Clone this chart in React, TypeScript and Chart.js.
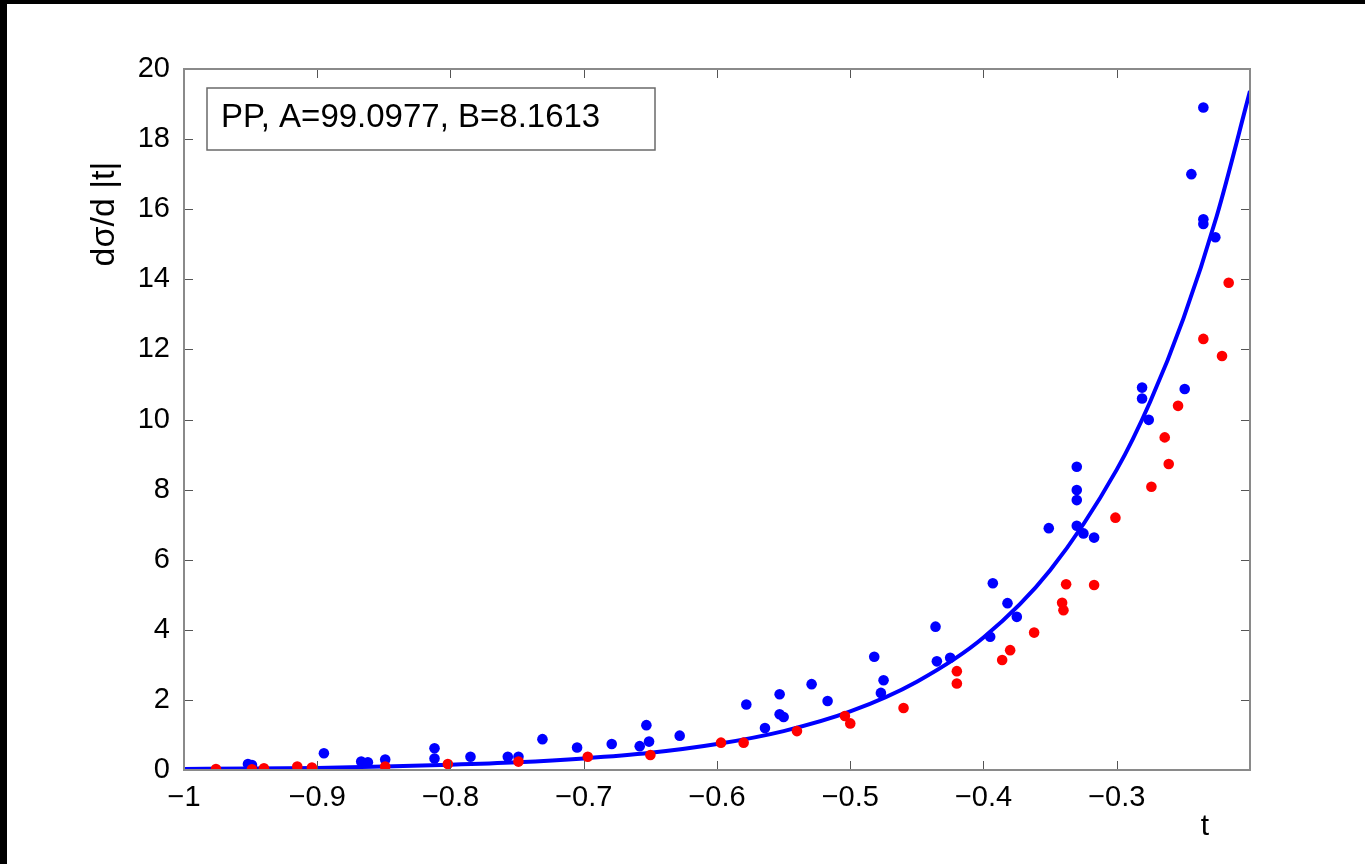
import React, { useEffect, useRef } from "react";
import { Chart, registerables } from "chart.js";

Chart.register(...registerables);

// Measured series (blue)
const blueT = [
  -0.952, -0.949, -0.895, -0.867, -0.862, -0.849, -0.812, -0.812, -0.785, -0.757,
  -0.749, -0.731, -0.705, -0.679, -0.658, -0.653, -0.651, -0.628, -0.578, -0.564,
  -0.553, -0.553, -0.55, -0.529, -0.517, -0.482, -0.475, -0.477, -0.436, -0.435,
  -0.425, -0.395, -0.393, -0.382, -0.375, -0.351, -0.33, -0.33, -0.33, -0.33,
  -0.325, -0.317, -0.281, -0.281, -0.276, -0.249, -0.244, -0.235, -0.235, -0.235,
  -0.226,
];
const blueY = [
  0.17, 0.14, 0.48, 0.24, 0.22, 0.3, 0.62, 0.33, 0.38, 0.38,
  0.38, 0.88, 0.64, 0.74, 0.68, 1.28, 0.81, 0.98, 1.87, 1.2,
  2.16, 1.59, 1.51, 2.45, 1.97, 3.23, 2.56, 2.2, 4.09, 3.1,
  3.2, 3.8, 5.33, 4.76, 4.37, 6.9, 8.65, 7.99, 7.7, 6.97,
  6.75, 6.63, 10.91, 10.6, 9.99, 10.87, 17.0, 18.9, 15.71, 15.58,
  15.2,
];

// Measured series (red)
const redT = [
  -0.976, -0.949, -0.94, -0.915, -0.904, -0.849, -0.802, -0.749, -0.697, -0.65,
  -0.597, -0.58, -0.54, -0.504, -0.5, -0.46, -0.42, -0.42, -0.386, -0.38,
  -0.362, -0.341, -0.34, -0.338, -0.317, -0.301, -0.274, -0.261, -0.264, -0.254,
  -0.235, -0.221, -0.216,
];
const redY = [
  0.03, 0.02, 0.05, 0.1, 0.07, 0.1, 0.17, 0.24, 0.38, 0.43,
  0.78, 0.78, 1.11, 1.54, 1.33, 1.77, 2.82, 2.47, 3.14, 3.42,
  3.92, 4.77, 4.56, 5.3, 5.28, 7.2, 8.08, 8.73, 9.49, 10.39,
  12.3, 11.81, 13.9,
];

// Fit curve
const fitT = [-1, -0.95, -0.9, -0.85, -0.8, -0.75, -0.7, -0.65, -0.6, -0.55, -0.5, -0.45, -0.4, -0.35, -0.3, -0.275, -0.25, -0.225, -0.2];
const fitY = [0.03, 0.04, 0.06, 0.1, 0.15, 0.22, 0.33, 0.49, 0.74, 1.11, 1.67, 2.52, 3.78, 5.7, 8.57, 10.5, 12.88, 15.8, 19.37];

const xTicks = [-1, -0.9, -0.8, -0.7, -0.6, -0.5, -0.4, -0.3];
const yTicks = [0, 2, 4, 6, 8, 10, 12, 14, 16, 18, 20];

const legendText = "PP, A=99.0977, B=8.1613";
const xTitle = "t";
const yTitle = "dσ/d |t|";

const FONT = "'Liberation Sans', Arial, Helvetica, sans-serif";

const fmt = (v: number) => String(v).replace("-", "\u2212");

export default function App() {
  const ref = useRef<HTMLCanvasElement | null>(null);

  useEffect(() => {
    if (!ref.current) return;

    const bgPlugin = {
      id: "bg",
      beforeDraw(chart: any) {
        const ctx = chart.ctx;
        ctx.save();
        ctx.fillStyle = "#ffffff";
        ctx.fillRect(0, 0, chart.width, chart.height);
        ctx.fillStyle = "#000000";
        ctx.fillRect(0, 0, chart.width, 4);
        ctx.fillRect(0, 0, 7, chart.height);
        ctx.restore();
      },
    };

    const framePlugin = {
      id: "frame",
      afterDraw(chart: any) {
        const ctx = chart.ctx;
        const a = chart.chartArea;
        const xs = chart.scales.x;
        const ys = chart.scales.y;
        ctx.save();
        // inward ticks
        ctx.strokeStyle = "#555555";
        ctx.lineWidth = 1;
        const tl = 9;
        ctx.beginPath();
        for (const v of xTicks) {
          const px = Math.round(xs.getPixelForValue(v)) + 0.5;
          ctx.moveTo(px, a.bottom);
          ctx.lineTo(px, a.bottom - tl);
          ctx.moveTo(px, a.top);
          ctx.lineTo(px, a.top + tl);
        }
        for (const v of yTicks) {
          const py = Math.round(ys.getPixelForValue(v)) + 0.5;
          ctx.moveTo(a.left, py);
          ctx.lineTo(a.left + tl, py);
          ctx.moveTo(a.right, py);
          ctx.lineTo(a.right - tl, py);
        }
        ctx.stroke();
        // box
        ctx.strokeStyle = "#8a8a8a";
        ctx.lineWidth = 2;
        ctx.strokeRect(a.left, a.top, a.right - a.left, a.bottom - a.top);

        // legend box
        ctx.fillStyle = "#ffffff";
        ctx.fillRect(207, 88, 448, 62);
        ctx.strokeStyle = "#6a6a6a";
        ctx.lineWidth = 1.5;
        ctx.strokeRect(207, 88, 448, 62);
        ctx.fillStyle = "#000000";
        ctx.font = `33px ${FONT}`;
        ctx.textAlign = "left";
        ctx.textBaseline = "middle";
        ctx.fillText(legendText, 221, 118);

        // axis titles
        ctx.font = `30px ${FONT}`;
        ctx.textAlign = "center";
        ctx.textBaseline = "middle";
        ctx.fillText(xTitle, 1205, 827);
        ctx.font = `34px ${FONT}`;
        ctx.translate(105, 214);
        ctx.rotate(-Math.PI / 2);
        ctx.fillText(yTitle, 0, 0);
        ctx.restore();
      },
    };

    const chart = new Chart(ref.current, {
      type: "scatter",
      data: {
        datasets: [
          {
            label: "red",
            data: redT.map((t, i) => ({ x: t, y: redY[i] })),
            backgroundColor: "#ff0000",
            borderWidth: 0,
            pointRadius: 5.3,
            order: 0,
          },
          {
            label: "fit",
            type: "line",
            data: fitT.map((t, i) => ({ x: t, y: fitY[i] })),
            borderColor: "#0000ff",
            borderWidth: 4,
            pointRadius: 0,
            fill: false,
            cubicInterpolationMode: "monotone",
            order: 1,
          },
          {
            label: "blue",
            data: blueT.map((t, i) => ({ x: t, y: blueY[i] })),
            backgroundColor: "#0000ff",
            borderWidth: 0,
            pointRadius: 5.3,
            order: 2,
          },
        ],
      } as any,
      plugins: [bgPlugin, framePlugin],
      options: {
        responsive: false,
        animation: false,
        layout: { padding: { left: 0, top: 69, right: 115, bottom: 0 } },
        plugins: {
          legend: { display: false },
          tooltip: { enabled: false },
        },
        scales: {
          x: {
            type: "linear",
            min: -1,
            max: -0.2,
            afterBuildTicks: (s: any) => {
              s.ticks = xTicks.map((v) => ({ value: v }));
            },
            afterFit: (s: any) => {
              s.height = 94;
            },
            grid: { display: false },
            border: { display: false },
            ticks: {
              autoSkip: false,
              maxRotation: 0,
              padding: 3,
              color: "#000000",
              font: { family: FONT, size: 29 },
              callback: (v: any) => fmt(Number(v)),
            },
          },
          y: {
            type: "linear",
            min: 0,
            max: 20,
            afterBuildTicks: (s: any) => {
              s.ticks = yTicks.map((v) => ({ value: v }));
            },
            afterFit: (s: any) => {
              s.width = 184;
            },
            grid: { display: false },
            border: { display: false },
            ticks: {
              autoSkip: false,
              padding: 6,
              color: "#000000",
              font: { family: FONT, size: 29 },
              callback: (v: any) => fmt(Number(v)),
            },
          },
        },
      } as any,
    });

    return () => chart.destroy();
  }, []);

  return (
    <div style={{ position: "absolute", left: 0, top: 0, width: 1365, height: 864 }}>
      <canvas ref={ref} width={1365} height={864} style={{ width: 1365, height: 864, display: "block" }} />
    </div>
  );
}
